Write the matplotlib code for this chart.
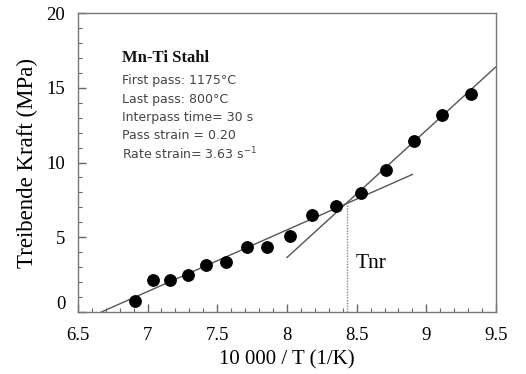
import matplotlib
matplotlib.use('Agg')
import matplotlib.pyplot as plt
import numpy as np
from matplotlib.ticker import MultipleLocator
from matplotlib.transforms import ScaledTranslation

# measured points: 10 000/T against driving force
inv_temp = [6.91, 7.04, 7.16, 7.29, 7.42, 7.56, 7.71, 7.86,
            8.02, 8.18, 8.35, 8.53, 8.71, 8.91, 9.11, 9.32]
force = [0.72, 2.12, 2.12, 2.44, 3.13, 3.33, 4.35, 4.35,
         5.09, 6.46, 7.08, 7.97, 9.47, 11.41, 13.17, 14.58]

# the two fitted lines (end points)
fit_low_x = [6.67, 8.90]
fit_low_y = [0.0, 9.20]
fit_high_x = [8.00, 9.50]
fit_high_y = [3.64, 16.41]

# Tnr: crossing of the two lines
tnr_x = 8.43
tnr_y = 7.21

info_title = 'Mn-Ti Stahl'
info_lines = ['First pass: 1175°C',
              'Last pass: 800°C',
              'Interpass time= 30 s',
              'Pass strain = 0.20',
              r'Rate strain= 3.63 s$^{\mathregular{-1}}$']

serif = 'Liberation Serif'
sans = 'DejaVu Sans'

fig = plt.figure(figsize=(5.26, 3.74), dpi=100)
ax = fig.add_axes([0.148, 0.166, 0.795, 0.799])

ax.plot(fit_low_x, fit_low_y, color='#555555', lw=1.0)
ax.plot(fit_high_x, fit_high_y, color='#555555', lw=1.0)
ax.plot([tnr_x, tnr_x], [0, tnr_y], color='#888888', lw=1.0, ls=(0, (1, 1)))
ax.plot(inv_temp, force, 'o', color='black', ms=8.2, zorder=3)

ax.set_xlim(6.5, 9.5)
ax.set_ylim(0, 20)
ax.xaxis.set_minor_locator(MultipleLocator(0.1))
ax.yaxis.set_minor_locator(MultipleLocator(1))
ax.set_xticks([6.5, 7, 7.5, 8, 8.5, 9, 9.5])
ax.set_xticklabels(['6.5', '7', '7.5', '8', '8.5', '9', '9.5'])
ax.set_yticks([0, 5, 10, 15, 20])
ax.set_yticklabels(['0', '5', '10', '15', '20'])
ax.tick_params(which='both', direction='in', color='#666666',
               top=False, right=False)
ax.tick_params(which='major', length=6, width=1.0, labelsize=13.5)
ax.tick_params(axis='x', which='major', pad=11)
ax.tick_params(axis='y', which='major', pad=9)
ax.tick_params(which='minor', length=3, width=0.8)
for lbl in ax.get_xticklabels() + ax.get_yticklabels():
    lbl.set_family(serif)
# the zero label sits a little above the axis line
ax.get_yticklabels()[0].set_transform(
    ax.get_yticklabels()[0].get_transform()
    + ScaledTranslation(0, 7 / 72, fig.dpi_scale_trans))

for s in ax.spines.values():
    s.set_color('#777777')
    s.set_linewidth(1.0)

ax.set_xlabel('10 000 / T (1/K)', family=serif, fontsize=15, labelpad=4)
ax.set_ylabel('Treibende Kraft (MPa)', family=serif, fontsize=16.5, labelpad=6)

ax.text(6.815, 17.0, info_title, family=serif, fontweight='bold',
        fontsize=12, va='center', color='#111111')
for i, line in enumerate(info_lines):
    ax.text(6.82, 15.47 - i * 1.23, line, family=sans, fontsize=9.0,
            va='center', color='#444444')

ax.text(8.49, 3.26, 'Tnr', family=serif, fontsize=15.5, va='center')

fig.savefig('out.png', dpi=100)
